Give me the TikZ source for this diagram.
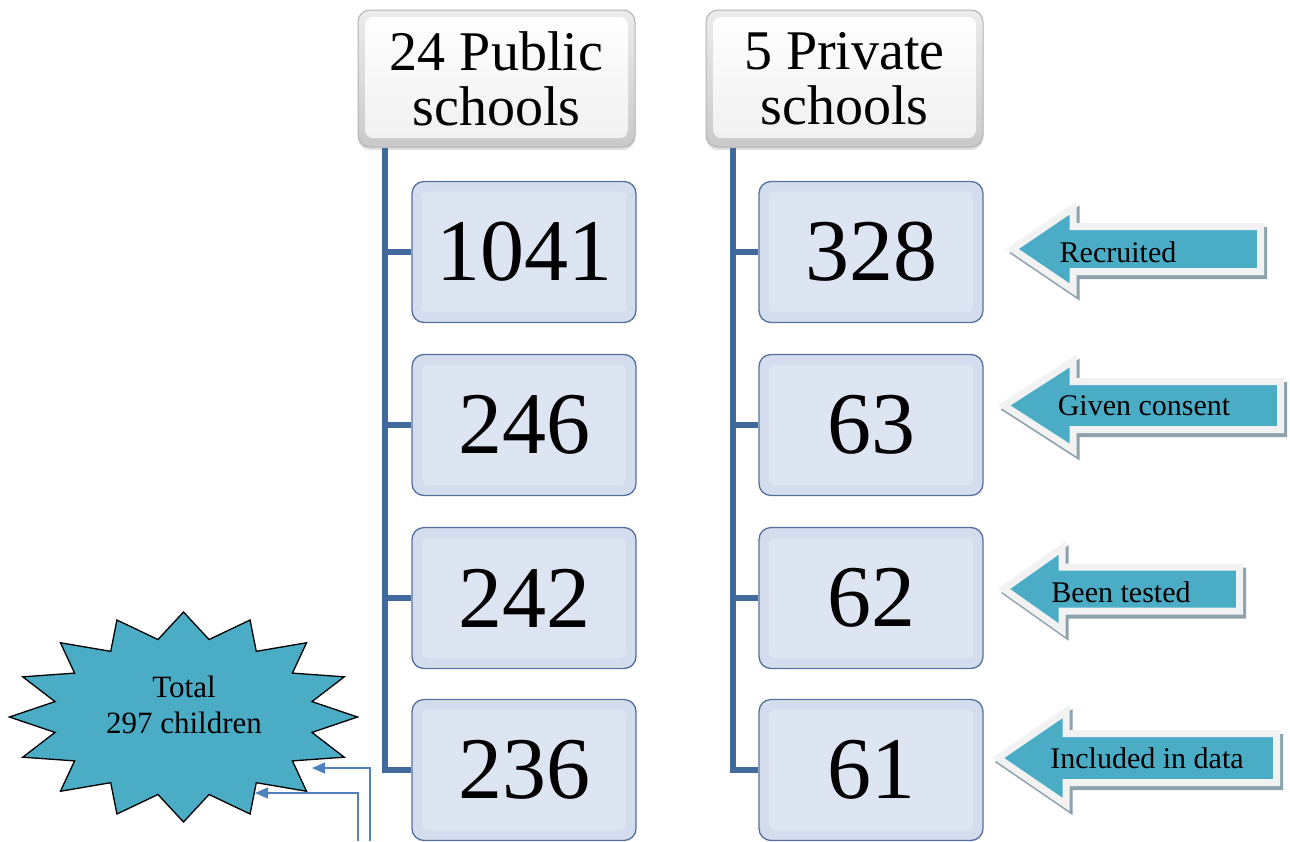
\documentclass[tikz,border=0pt]{standalone}
\usepackage{fontspec}
\setmainfont{Liberation Serif}
\usetikzlibrary{arrows.meta,shadows}

\definecolor{trunk}{RGB}{65,105,155}
\definecolor{boxouter}{RGB}{212,221,238}
\definecolor{boxinner}{RGB}{221,228,242}
\definecolor{boxedge}{RGB}{84,112,156}
\definecolor{tealfill}{RGB}{75,172,198}
\definecolor{rim}{RGB}{242,242,242}
\definecolor{rimshade}{RGB}{140,162,172}
\definecolor{link}{RGB}{79,129,189}

% left-pointing label arrow: #1 y, #2 tip x, #3 head base x, #4 right x, #5 head half, #6 body half
\newcommand{\labelarrow}[6]{%
  \draw[arrowshadow,shift={(3,4)}] (#2,#1) -- (#3,#1-#5) -- (#3,#1-#6) -- (#4,#1-#6)
    -- (#4,#1+#6) -- (#3,#1+#6) -- (#3,#1+#5) -- cycle;
  \draw[arrowbody] (#2,#1) -- (#3,#1-#5) -- (#3,#1-#6) -- (#4,#1-#6)
    -- (#4,#1+#6) -- (#3,#1+#6) -- (#3,#1+#5) -- cycle;
}

\begin{document}
\begin{tikzpicture}[x=1pt,y=-1pt,
  hdrbox/.style={rounded corners=12pt, minimum width=277pt, minimum height=137pt,
    inner sep=0pt, align=center, draw=gray!60, line width=1pt,
    top color=gray!15, bottom color=gray!42,
    drop shadow={opacity=0.25, shadow xshift=0pt, shadow yshift=-3pt},
    path picture={\shade[top color=white, bottom color=gray!12, rounded corners=8pt]
      ([shift={(7pt,-7pt)}]path picture bounding box.north west) rectangle
      ([shift={(-7pt,9pt)}]path picture bounding box.south east);},
    font=\fontsize{56}{55}\selectfont},
  numbox/.style={rounded corners=12pt, minimum width=224pt, minimum height=141pt,
    inner sep=0pt, draw=boxedge, line width=1.3pt, fill=boxouter,
    path picture={\fill[boxinner, rounded corners=6pt]
      ([shift={(10pt,-10pt)}]path picture bounding box.north west) rectangle
      ([shift={(-10pt,10pt)}]path picture bounding box.south east);},
    font=\fontsize{88}{88}\selectfont},
  trunkline/.style={draw=trunk, line width=6pt},
  arrowbody/.style={fill=tealfill, draw=rim, line width=7pt, line join=miter},
  arrowshadow/.style={fill=rimshade, draw=rimshade, line width=7pt, line join=miter},
  arrowtext/.style={anchor=base, inner sep=0pt, font=\fontsize{30}{30}\selectfont},
  link/.style={draw=link, line width=1.4pt, -{Triangle[length=13pt,width=11pt]}},
  startext/.style={align=center, inner sep=0pt, font=\fontsize{31}{36}\selectfont}
]
\useasboundingbox (0,0) rectangle (1290,841);

% school headers
\node[hdrbox] (pub) at (496.5,78.5) {24 Public\\schools};
\node[hdrbox] (pri) at (844.5,78.5) {5 Private\\schools};

% public school counts
\node[numbox] (p1) at (524,252) {1041};
\node[numbox] (p2) at (524,425) {246};
\node[numbox] (p3) at (524,598) {242};
\node[numbox] (p4) at (524,770) {236};

% private school counts
\node[numbox] (q1) at (871,252) {328};
\node[numbox] (q2) at (871,425) {63};
\node[numbox] (q3) at (871,598) {62};
\node[numbox] (q4) at (871,770) {61};

% tree trunks and branches
\coordinate (pubtop) at ([xshift=27pt]pub.south west);
\coordinate (pritop) at ([xshift=27pt]pri.south west);
\draw[trunkline] (pubtop) |- (p4.west);
\draw[trunkline] (pritop) |- (q4.west);
\foreach \b in {1,2,3} {
  \draw[trunkline] (pubtop |- p\b.west) -- (p\b.west);
  \draw[trunkline] (pritop |- q\b.west) -- (q\b.west);
}

% stage arrows
\labelarrow{249}{1012.5}{1073}{1260.5}{41}{22.5}
\node[arrowtext] (lab1) at (1118,262) {Recruited};
\labelarrow{405.5}{1004}{1073}{1280.5}{44.5}{24}
\node[arrowtext] (lab2) at (1144,415) {Given consent};
\labelarrow{589}{1004}{1062}{1239.5}{41}{22}
\node[arrowtext] (lab3) at (1121,602) {Been tested};
\labelarrow{758}{998}{1066}{1276.5}{46.5}{24.5}
\node[arrowtext] (lab4) at (1147,768) {Included in data};

% total burst
\draw[fill=tealfill, draw=black, line width=1.3pt, shift={(183.5,717)}]
  (174,0)
  \foreach \k [evaluate=\k as \rx using {174-43*isodd(\k)},
               evaluate=\k as \ry using {105-26*isodd(\k)}] in {1,...,31} {
    -- ({\rx*cos(\k*11.25)},{\ry*sin(\k*11.25)})
  } -- cycle;
\node[startext] (total) at (184,705) {Total\\297 children};

% links into the total
\coordinate (foot1) at (370,841);
\coordinate (tip1) at (312,768);
\coordinate (foot2) at (358,841);
\coordinate (tip2) at (255,793);
\draw[link] (foot1) |- (tip1);
\draw[link] (foot2) |- (tip2);
\end{tikzpicture}
\end{document}
